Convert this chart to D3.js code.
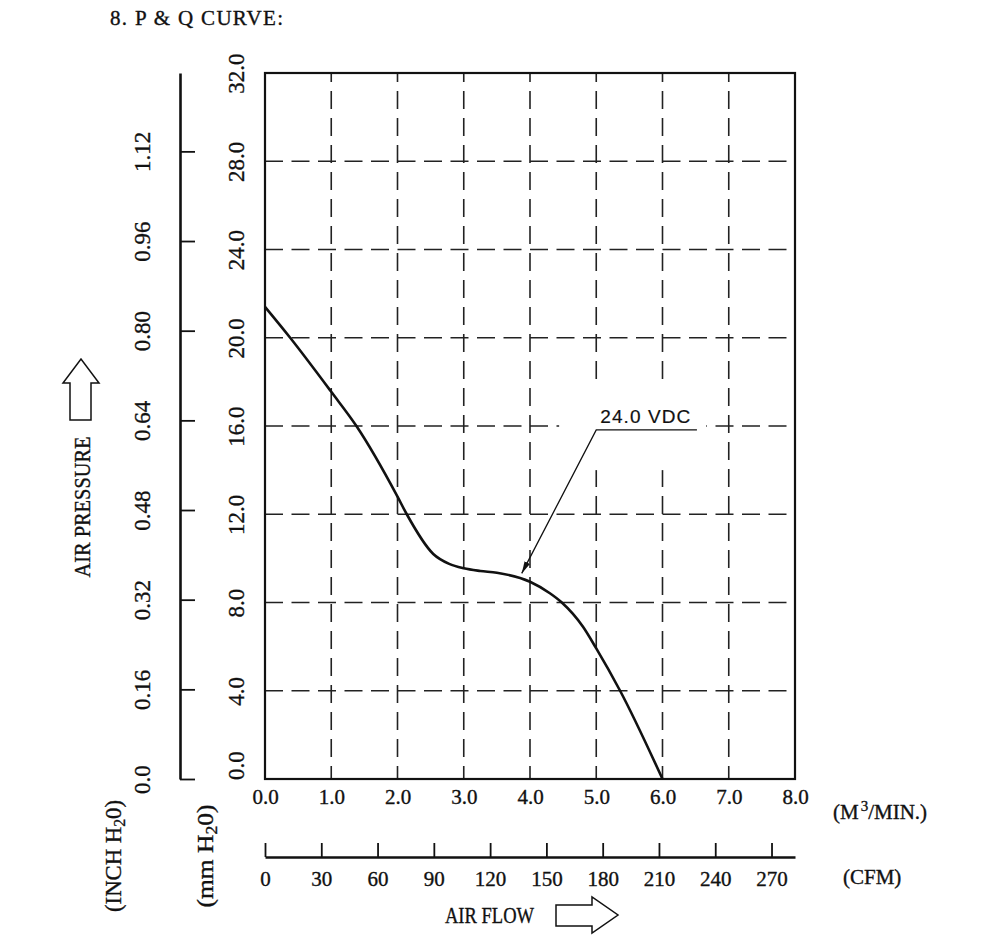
<html>
<head>
    <meta charset="utf-8">
    <title>P & Q CURVE</title>
</head>
<style>
    body { margin: 0; background: #fff; }
    svg text { font-family: "Liberation Serif", "DejaVu Serif", serif; fill: #111; stroke: #111; stroke-width: 0.35px; }
</style>
<body>
<svg width="1000" height="936"></svg>
<script src="https://d3js.org/d3.v7.min.js" charset="utf-8"></script>
<script>

    // curve: air flow (M3/MIN) vs static pressure (mm H2O)
    var flowM3 = [0, 0.38, 1.0, 1.38, 2.0, 2.14, 2.54, 2.78, 3.0, 3.25, 3.5, 4.0, 4.3, 4.48, 4.8, 5.0, 5.36, 6.0];
    var pressureMm = [21.4, 20.0, 17.55, 16.0, 12.8, 12.0, 10.2, 9.75, 9.55, 9.43, 9.35, 8.94, 8.42, 8.0, 6.9, 5.92, 4.0, 0];

    var m3Ticks = [0, 1, 2, 3, 4, 5, 6, 7, 8];
    var cfmTicks = [0, 30, 60, 90, 120, 150, 180, 210, 240, 270];
    var mmTicks = [0, 4, 8, 12, 16, 20, 24, 28, 32];
    var inchTicks = [0, 0.16, 0.32, 0.48, 0.64, 0.80, 0.96, 1.12];
    var curveLabel = '24.0 VDC';

    var M3_PER_CFM = 0.0283168;
    var MM_PER_INCH = 25.4;

    var pLeft = 265, pRight = 795, pTop = 73, pBottom = 779;

    var x = d3.scaleLinear().domain([0, 8]).range([pLeft, pRight]);
    var y = d3.scaleLinear().domain([0, 32]).range([pBottom, pTop]);
    var xCfm = d3.scaleLinear().domain([0, 8 / M3_PER_CFM]).range([pLeft, pRight]);
    var yInch = d3.scaleLinear().domain([0, 32 / MM_PER_INCH]).range([pBottom, pTop]);

    var svg = d3.select('svg');

    svg.append('text')
        .attr('x', 110).attr('y', 25)
        .attr('font-size', 21)
        .attr('textLength', 173).attr('lengthAdjust', 'spacing')
        .text('8. P & Q CURVE:');

    // dashed grid
    var grid = svg.append('g')
        .attr('stroke', '#222').attr('stroke-width', 1.6).attr('fill', 'none');
    grid.selectAll('.vg').data(m3Ticks.slice(1, -1)).enter().append('line')
        .attr('x1', function (d) { return x(d); }).attr('x2', function (d) { return x(d); })
        .attr('y1', pTop).attr('y2', pBottom)
        .attr('stroke-dasharray', '18,9').attr('stroke-dashoffset', 9);
    grid.selectAll('.hg').data(mmTicks.slice(1, -1)).enter().append('line')
        .attr('x1', pLeft).attr('x2', pRight)
        .attr('y1', function (d) { return y(d); }).attr('y2', function (d) { return y(d); })
        .attr('stroke-dasharray', '18,8.5').attr('stroke-dashoffset', 0);

    // blank space under the label
    svg.append('rect')
        .attr('x', x(4.44)).attr('y', y(18.1))
        .attr('width', x(6.66) - x(4.44)).attr('height', y(14.0) - y(18.1))
        .attr('fill', '#fff');

    // frame
    svg.append('rect')
        .attr('x', pLeft).attr('y', pTop)
        .attr('width', pRight - pLeft).attr('height', pBottom - pTop)
        .attr('fill', 'none').attr('stroke', '#111').attr('stroke-width', 2.2);

    // M3/MIN labels
    var xAxis = svg.append('g')
        .attr('transform', 'translate(0,' + pBottom + ')')
        .call(d3.axisBottom(x).tickValues(m3Ticks).tickSize(0).tickPadding(10)
            .tickFormat(function (d) { return d.toFixed(1); }));
    xAxis.select('.domain').remove();
    xAxis.selectAll('text').attr('font-size', 21).attr('fill', '#111');

    var unitM3 = svg.append('text').attr('x', 833).attr('y', 819).attr('font-size', 21);
    unitM3.append('tspan').text('(M');
    unitM3.append('tspan').attr('dy', -8).attr('font-size', 15).attr('dx', 2).text('3');
    unitM3.append('tspan').attr('dy', 8).text('/MIN.)');

    // CFM axis
    var cfmAxis = svg.append('g')
        .attr('transform', 'translate(0,857)')
        .call(d3.axisBottom(xCfm).tickValues(cfmTicks).tickSizeInner(-14).tickSizeOuter(0).tickPadding(14)
            .tickFormat(d3.format('d')));
    cfmAxis.selectAll('line').attr('stroke', '#111').attr('stroke-width', 1.8);
    cfmAxis.select('.domain').attr('stroke', '#111').attr('stroke-width', 2.6);
    cfmAxis.selectAll('text').attr('font-size', 21).attr('fill', '#111');

    svg.append('text').attr('x', 843).attr('y', 884).attr('font-size', 21).text('(CFM)');

    // mm H2O labels
    var mmAxis = svg.append('g')
        .attr('transform', 'translate(' + pLeft + ',0)')
        .call(d3.axisLeft(y).tickValues(mmTicks).tickSize(0)
            .tickFormat(function (d) { return d.toFixed(1); }));
    mmAxis.select('.domain').remove();
    mmAxis.selectAll('text')
        .attr('font-size', 23).attr('fill', '#111')
        .attr('text-anchor', 'middle').attr('dy', null)
        .attr('dominant-baseline', 'central')
        .attr('x', function (d) { return d === 0 ? 14 : 0; }).attr('y', 0)
        .attr('transform', 'translate(-29,0) rotate(-90)');

    // INCH H2O axis
    var inchAxis = svg.append('g')
        .attr('transform', 'translate(180,0)')
        .call(d3.axisLeft(yInch).tickValues(inchTicks).tickSizeInner(-15).tickSizeOuter(0)
            .tickFormat(function (d) { return d === 0 ? '0.0' : d.toFixed(2); }));
    inchAxis.select('.domain').attr('stroke', '#111').attr('stroke-width', 2.6);
    inchAxis.selectAll('line').attr('stroke', '#111').attr('stroke-width', 1.8);
    inchAxis.selectAll('text')
        .attr('font-size', 23).attr('fill', '#111')
        .attr('text-anchor', 'middle').attr('dy', null)
        .attr('dominant-baseline', 'central')
        .attr('x', 0).attr('y', 0)
        .attr('transform', 'translate(-38,0) rotate(-90)');

    function rotatedLabel(cx, cy, parts, len) {
        var t = svg.append('text')
            .attr('transform', 'translate(' + cx + ',' + cy + ') rotate(-90)')
            .attr('text-anchor', 'middle').attr('dominant-baseline', 'central')
            .attr('font-size', 23);
        parts.forEach(function (p) {
            t.append('tspan').attr('dy', p.dy || 0).attr('font-size', p.size || null).text(p.t);
        });
        if (len) t.attr('textLength', len).attr('lengthAdjust', 'spacingAndGlyphs');
        return t;
    }

    rotatedLabel(113, 856, [{t: '(INCH H'}, {t: '2', dy: 6, size: 16}, {t: '0)', dy: -6}], 112);
    rotatedLabel(205, 856, [{t: '(mm H'}, {t: '2', dy: 6, size: 16}, {t: '0)', dy: -6}], 103);
    rotatedLabel(82, 507, [{t: 'AIR PRESSURE'}], 141);

    svg.append('text')
        .attr('x', 445).attr('y', 923).attr('font-size', 23)
        .attr('textLength', 89).attr('lengthAdjust', 'spacingAndGlyphs')
        .text('AIR FLOW');

    // hollow arrows
    svg.append('path')
        .attr('d', 'M70,420 V383 H63 L81,359 L99,383 H91 V420 Z')
        .attr('fill', '#fff').attr('stroke', '#111').attr('stroke-width', 1.5);
    svg.append('path')
        .attr('d', 'M556,905 H592 V897 L618,915 L592,933 V926 H556 Z')
        .attr('fill', '#fff').attr('stroke', '#111').attr('stroke-width', 1.5);

    // P-Q curve
    var line = d3.line()
        .x(function (d, i) { return x(flowM3[i]); })
        .y(function (d) { return y(d); })
        .curve(d3.curveMonotoneX);
    svg.append('path')
        .attr('d', line(pressureMm))
        .attr('fill', 'none').attr('stroke', '#111').attr('stroke-width', 2.6);

    // label with leader
    svg.append('defs').append('marker')
        .attr('id', 'tip').attr('viewBox', '0 0 12 6')
        .attr('refX', 12).attr('refY', 3)
        .attr('markerWidth', 12).attr('markerHeight', 6)
        .attr('markerUnits', 'userSpaceOnUse').attr('orient', 'auto')
        .append('path').attr('d', 'M0,0 L12,3 L0,6 Z').attr('fill', '#111');

    var leader = [[6.52, 15.82], [5.0, 15.82], [3.875, 9.32]];
    svg.append('path')
        .attr('d', d3.line().x(function (d) { return x(d[0]); }).y(function (d) { return y(d[1]); })(leader))
        .attr('fill', 'none').attr('stroke', '#111').attr('stroke-width', 1.3)
        .attr('marker-end', 'url(#tip)');

    svg.append('text')
        .attr('x', x(5.06)).attr('y', y(16.15))
        .attr('font-family', '"Liberation Sans", Arial, sans-serif')
        .style('font-family', '"Liberation Sans", Arial, sans-serif')
        .style('stroke-width', '0.2px')
        .attr('font-size', 19)
        .attr('textLength', 90).attr('lengthAdjust', 'spacing')
        .text(curveLabel);

</script>
</body>
</html>
